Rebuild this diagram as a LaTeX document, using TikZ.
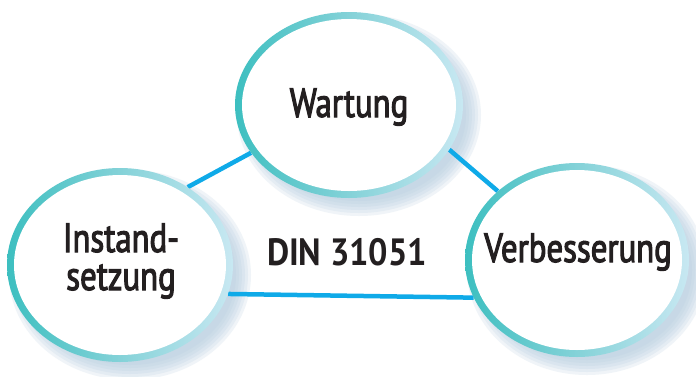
\documentclass[tikz,border=0pt]{standalone}
\usepackage{fontspec}
\setmainfont{PT Sans}
\newfontfamily\condfont[FakeStretch=0.80,FakeBold=2.6]{PT Sans}
\newfontfamily\boldfont[FakeStretch=0.90]{PT Sans Bold}
\usetikzlibrary{shapes.geometric}
\definecolor{ringA}{HTML}{3DBFC0}
\definecolor{ringB}{HTML}{84D2D8}
\definecolor{ringC}{HTML}{C8E8F2}
\definecolor{conncol}{HTML}{0FAAE8}
\definecolor{shadowcol}{HTML}{B4CCDF}
\definecolor{textcol}{HTML}{231F20}
\pgfdeclarelayer{bglayer}
\pgfdeclarelayer{shadowlayer}
\pgfdeclarelayer{linelayer}
\pgfsetlayers{bglayer,shadowlayer,linelayer,main}
\tikzset{
  ring/.style={ellipse, inner sep=0pt, draw=none, shade, left color=ringA, right color=ringC, middle color=ringB},
  disc/.style={ellipse, inner sep=0pt, draw=none, fill=white},
  lbl/.style={text=textcol, font=\condfont\fontsize{41}{38}\selectfont, align=center, inner sep=0pt},
  dinlbl/.style={text=textcol, font=\boldfont\fontsize{38}{38}\selectfont, inner sep=0pt},
  conn/.style={draw=conncol, line width=4.5pt},
  shadowpart/.style={fill=shadowcol, fill opacity=0.2, draw=none}
}
\newcommand{\softshadow}[4]{%
  \begin{pgfonlayer}{shadowlayer}
  \foreach \k in {0,...,5} {
    \fill[shadowpart] (#1+10,#2+10) ellipse ({#3+8-3*\k} and {#4+8-3*\k});
  }
  \end{pgfonlayer}}
\begin{document}
\begin{tikzpicture}[x=1pt,y=-1pt]
\useasboundingbox (0,0) rectangle (696,376);
\begin{pgfonlayer}{bglayer}
\fill[white] (0,0) rectangle (696,376);
\end{pgfonlayer}
% shadows
\softshadow{349}{105}{114}{93}
\softshadow{120}{265}{113}{97}
\softshadow{577}{260}{112}{97}
% rings
\node[ring, minimum width=228pt, minimum height=186pt] (w) at (349,105) {};
\node[disc, minimum width=214pt, minimum height=172pt] (wi) at (349,105) {};
\node[ring, minimum width=226pt, minimum height=194pt] (i) at (120,265) {};
\node[disc, minimum width=212pt, minimum height=180pt] (ii) at (120,265) {};
\node[ring, minimum width=224pt, minimum height=194pt] (v) at (577,260) {};
\node[disc, minimum width=210pt, minimum height=180pt] (vi) at (577,260) {};
% labels
\node[lbl, anchor=base] (wt) at (349,117) {Wartung};
\node[lbl, anchor=base] (it1) at (121,252) {Instand-};
\node[lbl, anchor=base] (it2) at (121,290) {setzung};
\node[lbl, anchor=base] (vt) at (578,262) {Verbesserung};
\node[dinlbl, anchor=base] (din) at (347,265) {DIN 31051};
% connectors
\begin{pgfonlayer}{linelayer}
\draw[conn] (i.49) -- (w.206);
\draw[conn] (w.-24) -- (v.139);
\draw[conn] (i.-15) -- (v.200);
\end{pgfonlayer}
\end{tikzpicture}
\end{document}
